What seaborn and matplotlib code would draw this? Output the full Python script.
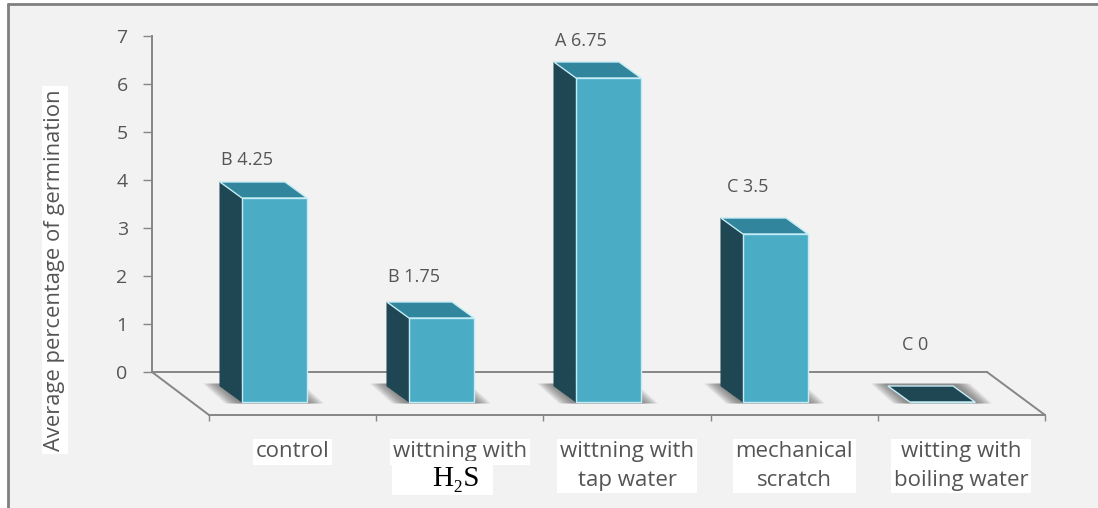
import matplotlib
matplotlib.use("Agg")
import matplotlib.pyplot as plt
from matplotlib.lines import Line2D
from matplotlib.patches import Polygon, Rectangle
import pandas as pd
import seaborn as sns

categories = ["control", "wittning with", "wittning with\ntap water",
              "mechanical\nscratch", "witting with\nboiling water"]
values = [4.25, 1.75, 6.75, 3.5, 0]
letters = ["B", "B", "A", "C", "C"]
y_ticks = [0, 1, 2, 3, 4, 5, 6, 7]

W, H = 1098, 508
GREY = "#868686"
TEXT = "#555555"
FRONT = "#4bacc6"
SIDE = "#1f4753"
TOP = "#31859c"

sns.set_theme(style="white")
plt.rcParams["font.family"] = ["Open Sans", "DejaVu Sans"]


def box(l, t, r, b):
    # pixel box to figure fractions
    return [l / W, 1 - b / H, (r - l) / W, (b - t) / H]


df = pd.DataFrame({"treatment": categories, "germination": values})

fig = plt.figure(figsize=(W / 100, H / 100), dpi=100, facecolor="white")
fig.add_artist(Rectangle((8 / W, 0), 1 - 8 / W, 1 - 4 / H, transform=fig.transFigure,
                         fc="#f2f2f2", ec="none", zorder=-1))
fig.add_artist(Line2D([8 / W, 1], [1 - 4 / H, 1 - 4 / H], color="#808080", lw=2, zorder=-1))
fig.add_artist(Line2D([8 / W, 8 / W], [0, 1 - 4 / H], color="#808080", lw=2, zorder=-1))

# back wall carries the value axis
back = fig.add_axes(box(152, 36, 987, 372), facecolor="none")
back.set_ylim(0, 7)
back.set_xticks([])
back.set_yticks(y_ticks)
back.tick_params(axis="y", left=True, length=6.5, width=1, color=GREY, labelsize=14,
                 labelcolor=TEXT, pad=11)
sns.despine(ax=back)
for s in ["left", "bottom"]:
    back.spines[s].set_color(GREY)
    back.spines[s].set_linewidth(1.4)
fig.text(55 / W, 1 - 270 / H, "Average percentage of germination", rotation=90, ha="center",
         va="center", fontsize=15.8, color=TEXT,
         bbox=dict(fc="white", ec="none", pad=2))

# front of the floor carries the category labels
floor = fig.add_axes(box(209, 300, 1045, 415), facecolor="none")
floor.set_xlim(0, 5)
floor.set_ylim(0, 1)
floor.set_yticks([])
floor.set_xticks(range(6))
floor.set_xticklabels([])
floor.set_xticks([i + 0.5 for i in range(5)], minor=True)
floor.set_xticklabels(categories, minor=True, fontsize=16, color=TEXT, linespacing=1.45, va="top")
floor.tick_params(axis="x", which="major", bottom=True, length=4, width=1, color=GREY)
floor.tick_params(axis="x", which="minor", bottom=False, pad=15)
sns.despine(ax=floor, left=True)
floor.spines["bottom"].set_color(GREY)
floor.spines["bottom"].set_linewidth(1.4)
for t in floor.get_xticklabels(minor=True):
    t.set_bbox(dict(fc="white", ec="none", pad=2))
fig.add_artist(Rectangle((392 / W, 1 - 495 / H), 101 / W, 34 / H, transform=fig.transFigure,
                         fc="white", ec="none", zorder=1))
fig.text(456 / W, 1 - 479 / H, "H\u2082S", family="Liberation Serif", fontsize=21, color="black",
         ha="center", va="center", zorder=3)

for x0, y0, x1, y1 in [(152, 372, 209, 415), (987, 372, 1045, 415)]:
    fig.add_artist(Line2D([x0 / W, x1 / W], [1 - y0 / H, 1 - y1 / H], color=GREY, lw=1.4))

# bars sit on a plane between wall and floor edge
ax = fig.add_axes(box(191, 66, 1026, 402), facecolor="none")
ax.set_zorder(5)
sns.barplot(data=df, x="treatment", y="germination", color=FRONT, saturation=1, width=0.39,
            edgecolor="#c4ecf4", linewidth=1, ax=ax)
ax.set_xlim(-0.5, 4.5)
ax.set_ylim(0, 7)
ax.axis("off")

dx = -22 / 167
dy = 16 / 48
label_dx = -0.165
label_up = [38, 41, 37, 47, 57]

for bar, val, let, up in zip(ax.patches, values, letters, label_up):
    bar.set_zorder(4)
    bar.set_clip_on(False)
    x0 = bar.get_x()
    x1 = x0 + bar.get_width()
    h = bar.get_height()
    # soft floor shadow, layered from wide to narrow
    for e in [0.1, 0.088, 0.076, 0.064, 0.052, 0.04, 0.028, 0.016]:
        ax.add_patch(Polygon([(x0 + dx - e, dy + 0.05), (x1 + dx + e, dy + 0.05), (x1 + e, -0.03), (x0 - e, -0.03)],
                             fc="#606060", ec="none", alpha=0.13, zorder=1, clip_on=False))
    ax.add_patch(Polygon([(x0, 0), (x0, h), (x0 + dx, h + dy), (x0 + dx, dy)], fc=SIDE,
                         ec="#c4ecf4" if h == 0 else SIDE, lw=0.6, zorder=3, clip_on=False))
    ax.add_patch(Polygon([(x0, h), (x1, h), (x1 + dx, h + dy), (x0 + dx, h + dy)],
                         fc=SIDE if h == 0 else TOP, ec="#c4ecf4", lw=1, zorder=3, clip_on=False))
    ax.annotate(f"{let} {val:g}", (x0 + bar.get_width() / 2 + label_dx, h), xytext=(0, up * 0.72),
                textcoords="offset points", ha="center", va="center", fontsize=13, color=TEXT,
                annotation_clip=False)

plt.savefig("out.png", dpi=100)
